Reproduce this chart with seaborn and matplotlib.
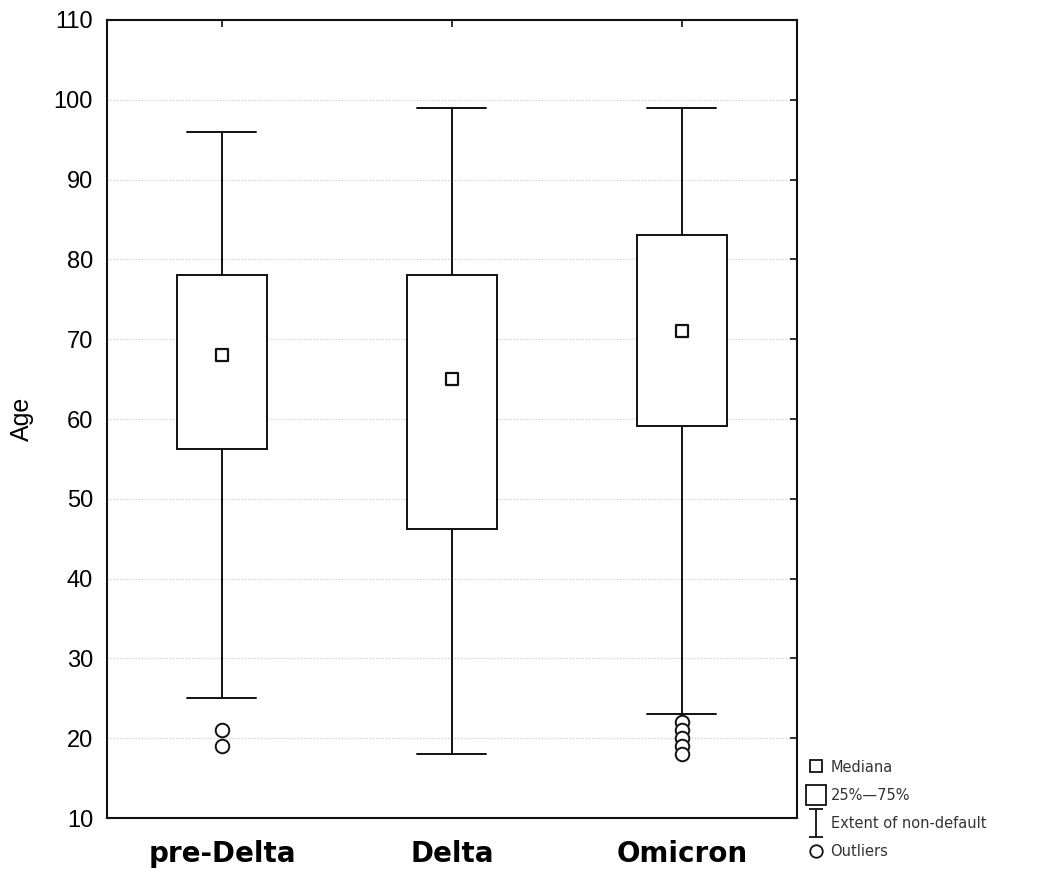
import matplotlib
matplotlib.use("Agg")
import matplotlib.pyplot as plt
import seaborn as sns
import numpy as np
import pandas as pd
from matplotlib.lines import Line2D
from matplotlib.path import Path

# ---- data ----
categories = ["pre-Delta", "Delta", "Omicron"]
whisker_low = [25, 18, 23]
q1 = [56.2, 46.2, 59.1]
median = [68, 65, 71]
q3 = [78, 78, 83]
whisker_high = [96, 99, 99]
outliers_pre_delta = [21, 19]
outliers_delta = []
outliers_omicron = [22, 21, 20, 19, 18]
y_ticks = [10, 20, 30, 40, 50, 60, 70, 80, 90, 100, 110]
legend_labels = ["Mediana", "25%\u201475%", "Extent of non-default", "Outliers"]

sns.set_style("white")
plt.rcParams['font.family'] = ['Liberation Sans', 'DejaVu Sans']
plt.rcParams['text.color'] = 'black'
plt.rcParams['axes.labelcolor'] = 'black'
plt.rcParams['xtick.color'] = 'black'
plt.rcParams['ytick.color'] = 'black'

fig = plt.figure(figsize=(10.4, 8.72), dpi=100)
ax = fig.add_axes([107/1040, 1-818/872, 690/1040, 798/872])

outlier_lists = [outliers_pre_delta, outliers_delta, outliers_omicron]
stats = []
for i, c in enumerate(categories):
    stats.append(dict(label=c, whislo=whisker_low[i], q1=q1[i], med=median[i],
                      q3=q3[i], whishi=whisker_high[i], fliers=[]))

ax.bxp(stats, positions=range(len(categories)), widths=0.39, patch_artist=True,
       showfliers=False,
       boxprops=dict(facecolor="white", edgecolor="#111111", linewidth=1.4, zorder=3),
       whiskerprops=dict(color="#111111", linewidth=1.4, zorder=3),
       capprops=dict(color="#111111", linewidth=1.4, zorder=3),
       medianprops=dict(linewidth=0), capwidths=0.3)

med_df = pd.DataFrame({"x": range(len(categories)), "y": median})
sns.scatterplot(data=med_df, x="x", y="y", marker="s", s=85, facecolor="white",
                edgecolor="#111111", linewidth=1.6, ax=ax, zorder=4)

out_x, out_y = [], []
for i, lst in enumerate(outlier_lists):
    out_x += [i] * len(lst)
    out_y += lst
out_df = pd.DataFrame({"x": out_x, "y": out_y})
sns.scatterplot(data=out_df, x="x", y="y", marker="o", s=95, facecolor="white",
                edgecolor="#111111", linewidth=1.4, ax=ax, zorder=4)

ax.set_xlim(-0.5, 2.5)
ax.set_ylim(10, 110)
ax.set_yticks(y_ticks)
ax.set_xticks(range(len(categories)))
ax.set_xticklabels(categories, fontsize=20, fontweight="bold", family=["DejaVu Sans"])
ax.set_yticklabels([str(t) for t in y_ticks], fontsize=17)
ax.set_xlabel("")
ax.set_ylabel("Age", fontsize=18, labelpad=14)
ax.tick_params(axis="both", direction="in", length=5, width=1.2, color="#111111",
               labelcolor="black", top=True, right=True)
ax.tick_params(axis="x", pad=16)
ax.tick_params(axis="y", pad=10)
ax.yaxis.grid(True, linestyle=(0, (1, 1.5)), color="#cccccc", linewidth=0.9)
ax.xaxis.grid(False)
ax.set_axisbelow(True)
for s in ax.spines.values():
    s.set_visible(True)
    s.set_color("#111111")
    s.set_linewidth(1.5)

# legend
ibar = Path([(-0.5, 1), (0.5, 1), (0, 1), (0, -1), (-0.5, -1), (0.5, -1)],
            [Path.MOVETO, Path.LINETO, Path.MOVETO, Path.LINETO, Path.MOVETO, Path.LINETO])
handles = [
    Line2D([], [], linestyle="none", marker="s", markersize=9, markerfacecolor="white",
           markeredgecolor="#111111", markeredgewidth=1.3),
    Line2D([], [], linestyle="none", marker="s", markersize=15, markerfacecolor="white",
           markeredgecolor="#111111", markeredgewidth=1.3),
    Line2D([], [], linestyle="none", marker=ibar, markersize=20, markerfacecolor="none",
           markeredgecolor="#111111", markeredgewidth=1.3),
    Line2D([], [], linestyle="none", marker="o", markersize=9, markerfacecolor="white",
           markeredgecolor="#111111", markeredgewidth=1.3),
]
leg = fig.legend(handles, legend_labels, loc="lower left", bbox_to_anchor=(0.765, 0.0),
                 frameon=False, handlelength=1.0, handletextpad=0.5,
                 labelspacing=0.9, prop={"family": ["DejaVu Sans"], "size": 10.5})
for t in leg.get_texts():
    t.set_color("#333333")

fig.savefig("out.png", dpi=100, facecolor="white")
